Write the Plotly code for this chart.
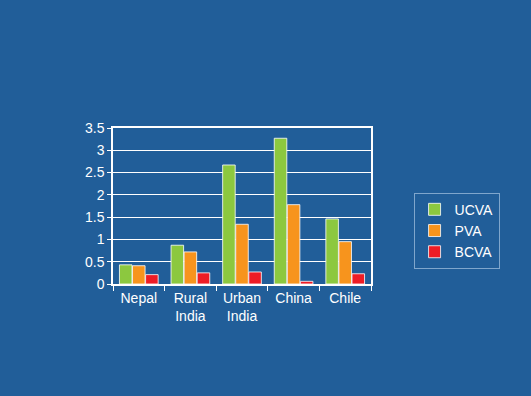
import plotly.graph_objects as go

categories = ["Nepal", "Rural<br>India", "Urban<br>India", "China", "Chile"]
ucva = [0.43, 0.87, 2.67, 3.27, 1.46]
pva = [0.41, 0.72, 1.34, 1.78, 0.95]
bcva = [0.21, 0.25, 0.27, 0.06, 0.23]

series = [("UCVA", ucva, "#8cc83f"),
          ("PVA", pva, "#f7941d"),
          ("BCVA", bcva, "#ee1c25")]

fig = go.Figure()
for name, vals, col in series:
    fig.add_trace(go.Bar(name=name, x=categories, y=vals,
                         marker=dict(color=col, line=dict(color="rgba(255,255,255,0.8)", width=1))))

bg = "#215e99"
fig.update_layout(
    width=531, height=396,
    paper_bgcolor=bg, plot_bgcolor=bg,
    margin=dict(l=113, r=160, t=128, b=112),
    barmode="group", bargap=0.24, bargroupgap=0.04,
    font=dict(family="Liberation Sans, Arial, sans-serif", color="white", size=14),
    xaxis=dict(showline=True, linecolor="white", linewidth=1.5, tickson="boundaries",
               ticks="outside", ticklen=5, tickcolor="white", showgrid=False, mirror=True,
               tickfont=dict(size=14)),
    yaxis=dict(range=[0, 3.5], dtick=0.5, showline=True, linecolor="white", linewidth=1.5,
               gridcolor="white", gridwidth=1, ticks="outside", ticklen=4, tickcolor="white",
               zeroline=False, tickfont=dict(size=14), tickformat="~g", mirror=True),
    legend=dict(x=1.165, y=0.585, xanchor="left", yanchor="top",
                bordercolor="#7fa6cc", borderwidth=1, bgcolor=bg,
                font=dict(size=14, color="white"), itemwidth=30, tracegroupgap=4),
    showlegend=True,
)
fig.write_html("out.html", config={"displayModeBar": False},
               post_script="document.body.style.margin='0';")
